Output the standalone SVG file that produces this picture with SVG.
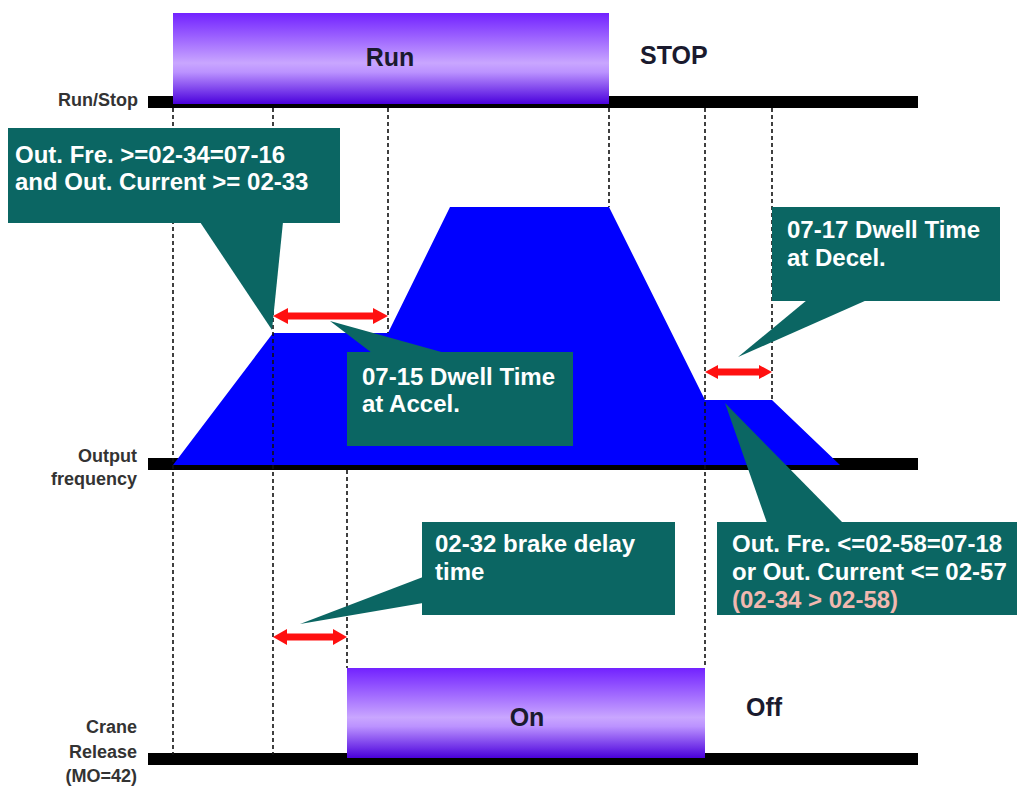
<svg xmlns="http://www.w3.org/2000/svg" width="1017" height="787" viewBox="0 0 1017 787">
<defs>
<linearGradient id="pg" x1="0" y1="0" x2="0" y2="1">
<stop offset="0" stop-color="#7222ff"/>
<stop offset="0.55" stop-color="#c9a6ff"/>
<stop offset="0.65" stop-color="#bb92ff"/>
<stop offset="1" stop-color="#4a00dc"/>
</linearGradient>
<style>
.lbl{font-family:"Liberation Sans",Arial,sans-serif;font-weight:bold;font-size:18px;fill:#333;text-anchor:end}
.st{font-family:"Liberation Sans",Arial,sans-serif;font-weight:bold;font-size:25px;fill:#1a1a2e}
.ct{font-family:"Liberation Sans",Arial,sans-serif;font-weight:bold;font-size:24px;fill:#ffffff}
.teal{fill:#0b6663}
.bar{fill:#000}
.dash{stroke:#111;stroke-width:1.6;stroke-dasharray:4 3;fill:none}
.arr{fill:#ff1010}
</style>
</defs>
<rect width="1017" height="787" fill="#fff"/>

<g id="axes">
<rect class="bar" x="148" y="96" width="770" height="12"/>
<rect class="bar" x="148" y="458" width="770" height="12"/>
<rect class="bar" x="148" y="753" width="770" height="12"/>
<text class="lbl" x="138" y="106">Run/Stop</text>
<text class="lbl" x="137" y="462">Output</text>
<text class="lbl" x="137" y="485">frequency</text>
<text class="lbl" x="137" y="733">Crane</text>
<text class="lbl" x="137" y="758">Release</text>
<text class="lbl" x="137" y="782">(MO=42)</text>
</g>

<g id="run">
<rect x="173" y="13" width="436" height="91" fill="url(#pg)"/>
<text class="st" x="390" y="66" text-anchor="middle">Run</text>
<text class="st" x="640" y="64">STOP</text>
</g>

<g id="freq">
<polygon points="173,465 273,333 388,333 450,207 609,207 705,400 772,400 840,465" fill="#0000ff"/>
</g>

<g id="crane">
<rect x="347" y="668" width="358" height="90" fill="url(#pg)"/>
<text class="st" x="527" y="726" text-anchor="middle">On</text>
<text class="st" x="746" y="716">Off</text>
</g>

<g id="connectors">
<line class="dash" x1="173" y1="108" x2="173" y2="755"/>
<line class="dash" x1="273" y1="108" x2="273" y2="755"/>
<line class="dash" x1="388" y1="108" x2="388" y2="333"/>
<line class="dash" x1="609" y1="108" x2="609" y2="207"/>
<line class="dash" x1="705" y1="108" x2="705" y2="668"/>
<line class="dash" x1="772" y1="108" x2="772" y2="400"/>
<line class="dash" x1="347" y1="470" x2="347" y2="668"/>
<polygon class="arr" points="273,316 288,308 288,312.5 373,312.5 373,308 388,316 373,324 373,319.5 288,319.5 288,324"/>
<polygon class="arr" points="705,372 718,365 718,368.5 759,368.5 759,365 772,372 759,379 759,375.5 718,375.5 718,379"/>
<polygon class="arr" points="273,637 287,629 287,633.5 333,633.5 333,629 347,637 333,645 333,640.5 287,640.5 287,645"/>
</g>

<g id="callout1">
<rect class="teal" x="8" y="128" width="332" height="95"/>
<polygon class="teal" points="200,222 283,222 272,330"/>
<text class="ct" x="15" y="163">Out. Fre. &gt;=02-34=07-16</text>
<text class="ct" x="15" y="190">and Out. Current &gt;= 02-33</text>
</g>

<g id="callout2">
<polygon class="teal" points="330,321 445,353 372,353"/>
<rect class="teal" x="347" y="352" width="226" height="94"/>
<text class="ct" x="362" y="385">07-15 Dwell Time</text>
<text class="ct" x="362" y="412">at Accel.</text>
</g>

<g id="callout3">
<rect class="teal" x="772" y="207" width="228" height="94"/>
<polygon class="teal" points="807,300 867,300 738,357"/>
<text class="ct" x="787" y="238">07-17 Dwell Time</text>
<text class="ct" x="787" y="266">at Decel.</text>
</g>

<g id="callout4">
<rect class="teal" x="422" y="522" width="253" height="93"/>
<polygon class="teal" points="423,577 423,603 300,624"/>
<text class="ct" x="435" y="552">02-32 brake delay</text>
<text class="ct" x="435" y="580">time</text>
</g>

<g id="callout5">
<polygon class="teal" points="725,403 767,523 843,523"/>
<rect class="teal" x="717" y="522" width="300" height="93"/>
<text class="ct" x="732" y="552">Out. Fre. &lt;=02-58=07-18</text>
<text class="ct" x="732" y="580">or Out. Current &lt;= 02-57</text>
<text class="ct" x="732" y="608" style="fill:#f2b8b0">(02-34 &gt; 02-58)</text>
</g>
</svg>
